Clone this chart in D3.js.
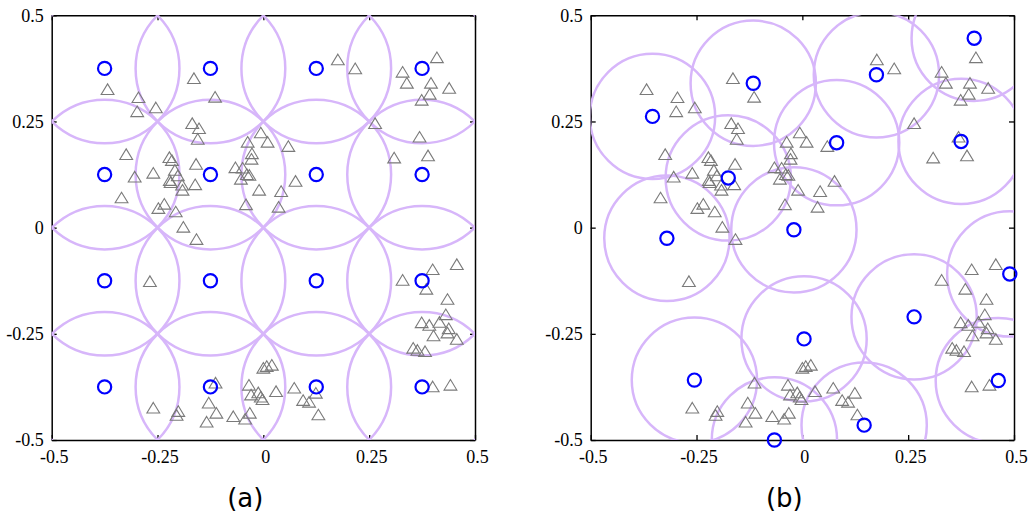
<!DOCTYPE html>
<html>
<head>
<meta charset="utf-8">
<script src="https://cdn.jsdelivr.net/npm/d3@7"></script>
<style>
  html, body { margin: 0; padding: 0; background: #fff; }
  svg { display: block; }
</style>
</head>
<body>
<script>
// Axis ticks shared by both panels
const tickValues = [-0.5, -0.25, 0, 0.25, 0.5];
const tickLabels = ["-0.5", "-0.25", "0", "0.25", "0.5"];

// Target points (same in both panels)
const targetX = [
  -0.368, -0.295, -0.298, -0.254, -0.164, -0.114, -0.168, -0.152, -0.155, -0.324,
  -0.304, -0.260, -0.222, -0.216, -0.209, -0.202, -0.221, -0.219, -0.192, -0.191,
  -0.159, -0.161, -0.335, -0.248, -0.234, -0.207, -0.189, -0.158, -0.066, -0.049,
  -0.053, -0.039, -0.033, -0.041, -0.037, -0.006, 0.010, 0.059, -0.027, -0.028,
  0.076, -0.010, 0.042, 0.036, 0.176, 0.217, 0.329, 0.339, 0.410, 0.396,
  0.393, 0.374, 0.439, 0.264, 0.369, 0.309, 0.389, -0.268, 0.329, 0.400,
  0.457, 0.385, 0.435, 0.431, 0.374, 0.392, 0.416, 0.438, 0.435, 0.402,
  0.457, 0.354, 0.364, 0.382, 0.400, 0.442, -0.260, -0.201, -0.205, -0.129,
  -0.113, -0.111, -0.134, -0.071, -0.043, -0.032, -0.034, -0.029, -0.012, -0.006,
  -0.002, 0.000, 0.008, 0.020, 0.030, 0.073, 0.094, 0.108, 0.124, 0.130
];
const targetY = [
  0.326, 0.307, 0.274, 0.283, 0.352, 0.308, 0.246, 0.234, 0.209, 0.173,
  0.120, 0.129, 0.166, 0.159, 0.136, 0.123, 0.112, 0.107, 0.101, 0.089,
  0.150, 0.102, 0.071, 0.046, 0.056, 0.038, 0.002, -0.027, 0.142, 0.141,
  0.115, 0.126, 0.124, 0.055, 0.202, 0.224, 0.202, 0.192, 0.175, 0.162,
  0.110, 0.089, 0.086, 0.049, 0.396, 0.375, 0.367, 0.341, 0.401, 0.341,
  0.315, 0.301, 0.329, 0.246, 0.214, 0.165, 0.170, -0.126, -0.123, -0.098,
  -0.086, -0.144, -0.168, -0.204, -0.223, -0.229, -0.222, -0.237, -0.247, -0.254,
  -0.262, -0.283, -0.288, -0.291, -0.374, -0.370, -0.424, -0.432, -0.441, -0.412,
  -0.365, -0.436, -0.457, -0.444, -0.450, -0.436, -0.370, -0.393, -0.388, -0.398,
  -0.404, -0.330, -0.326, -0.323, -0.385, -0.377, -0.406, -0.410, -0.389, -0.440
];

// Panel (a): sensors on a regular 4x4 grid
const sensorAX = [-0.375, -0.125, 0.125, 0.375, -0.375, -0.125, 0.125, 0.375,
                  -0.375, -0.125, 0.125, 0.375, -0.375, -0.125, 0.125, 0.375];
const sensorAY = [0.375, 0.375, 0.375, 0.375, 0.125, 0.125, 0.125, 0.125,
                  -0.125, -0.125, -0.125, -0.125, -0.375, -0.375, -0.375, -0.375];

// Panel (b): optimised sensor positions
const sensorBX = [-0.354, -0.116, -0.175, -0.320, -0.255, -0.066, -0.020, 0.081,
                  0.175, 0.406, 0.375, 0.490, 0.264, 0.004, 0.463, 0.146];
const sensorBY = [0.262, 0.340, 0.117, -0.025, -0.359, -0.500, -0.005, 0.200,
                  0.360, 0.446, 0.203, -0.109, -0.210, -0.262, -0.360, -0.465];

// Sensing radius per panel
const radiusA = 0.1768;
const radiusB = 0.148;

const panelLabels = ["(a)", "(b)"];

const W = 1033, H = 516;
const svg = d3.select("body").append("svg")
  .attr("width", W).attr("height", H)
  .style("background", "#fff");

const plotTop = 15.3, plotBottom = 440;

function drawPanel(idx, x0, x1, sx, sy, radius) {
  const x = d3.scaleLinear().domain([-0.5, 0.5]).range([x0, x1]);
  const y = d3.scaleLinear().domain([-0.5, 0.5]).range([plotBottom, plotTop]);
  const g = svg.append("g");
  const fmt = (d) => tickLabels[tickValues.indexOf(d)];

  const clipId = "clip" + idx;
  svg.append("defs").append("clipPath").attr("id", clipId)
    .append("rect")
    .attr("x", x0).attr("y", plotTop)
    .attr("width", x1 - x0).attr("height", plotBottom - plotTop);

  // frame + ticks
  const styleAxis = (sel) => {
    sel.select(".domain").attr("stroke", "#000").attr("stroke-width", 1.5);
    sel.selectAll(".tick line").attr("stroke", "#000").attr("stroke-width", 1.3);
    sel.selectAll(".tick text")
      .attr("fill", "#000")
      .style("font-family", "'Liberation Serif', 'Times New Roman', serif")
      .style("font-size", "18px");
  };

  g.append("g").attr("transform", `translate(0,${plotBottom})`)
    .call(d3.axisBottom(x).tickValues(tickValues).tickFormat(fmt)
      .tickSizeInner(-5).tickSizeOuter(0).tickPadding(10))
    .call(styleAxis)
    .call(s => s.selectAll(".tick text").attr("dx", 2));
  g.append("g").attr("transform", `translate(${x0},0)`)
    .call(d3.axisLeft(y).tickValues(tickValues).tickFormat(fmt)
      .tickSizeInner(-5).tickSizeOuter(0).tickPadding(8))
    .call(styleAxis);
  g.append("g").attr("transform", `translate(0,${plotTop})`)
    .call(d3.axisTop(x).tickValues(tickValues).tickFormat("")
      .tickSizeInner(-5).tickSizeOuter(0))
    .call(styleAxis);
  g.append("g").attr("transform", `translate(${x1},0)`)
    .call(d3.axisRight(y).tickValues(tickValues).tickFormat("")
      .tickSizeInner(-5).tickSizeOuter(0))
    .call(styleAxis);

  // sensing ranges
  const rPx = x(radius) - x(0);
  g.append("g").attr("clip-path", `url(#${clipId})`)
    .selectAll("circle").data(d3.range(sx.length)).join("circle")
    .attr("cx", i => x(sx[i])).attr("cy", i => y(sy[i]))
    .attr("r", rPx)
    .attr("fill", "none")
    .attr("stroke", "#d7b6fa")
    .attr("stroke-width", 2.5);

  // targets
  const tri = "M0,-5.6L6.4,5L-6.4,5Z";
  g.append("g").selectAll("path").data(d3.range(targetX.length)).join("path")
    .attr("d", tri)
    .attr("transform", i => `translate(${x(targetX[i])},${y(targetY[i]) + 0.3})`)
    .attr("fill", "none")
    .attr("stroke", "#7a7a7a")
    .attr("stroke-width", 1.1);

  // sensors
  g.append("g").selectAll("circle").data(d3.range(sx.length)).join("circle")
    .attr("cx", i => x(sx[i])).attr("cy", i => y(sy[i]))
    .attr("r", 6.6)
    .attr("fill", "none")
    .attr("stroke", "#0000ff")
    .attr("stroke-width", 2.2);

  // panel caption
  svg.append("text")
    .attr("x", (x0 + x1) / 2 - 18).attr("y", 507)
    .attr("text-anchor", "middle")
    .style("font-family", "'DejaVu Sans', sans-serif")
    .style("font-size", "26px")
    .attr("fill", "#000")
    .text(panelLabels[idx]);
}

drawPanel(0, 51.7, 475, sensorAX, sensorAY, radiusA);
drawPanel(1, 590.7, 1014, sensorBX, sensorBY, radiusB);
</script>
</body>
</html>
